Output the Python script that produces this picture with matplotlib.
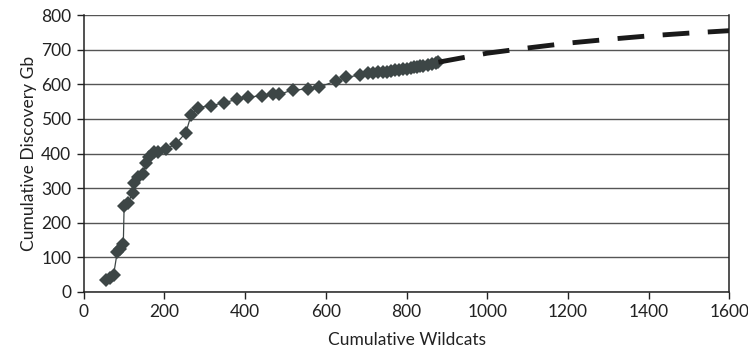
import matplotlib
matplotlib.use("Agg")
import matplotlib.pyplot as plt

# historical discoveries
wildcats = [55, 64, 74, 83, 91, 98, 100, 110, 121, 124, 135, 146, 154, 162, 174, 184,
            203, 228, 253, 266, 282, 315, 348, 381, 408, 441, 468, 485, 518, 555, 584,
            625, 650, 685, 705, 718, 730, 742, 752, 762, 772, 782, 792, 800, 810, 818,
            826, 834, 842, 852, 862, 872, 879]
discovery = [35, 40, 50, 116, 123, 139, 248, 258, 287, 316, 333, 341, 372, 391, 405, 405,
             412, 428, 460, 511, 533, 538, 547, 557, 564, 566, 571, 571, 584, 586, 592,
             610, 620, 627, 632, 633, 635, 636, 637, 638, 640, 641, 643, 645, 648, 650,
             651, 652, 653, 656, 659, 662, 664]

# extrapolated trend (dashed)
trend_x = [879, 1000, 1100, 1200, 1300, 1400, 1500, 1600]
trend_y = [664, 690, 705, 719, 730, 740, 748, 755]

plt.rcParams['font.family'] = ['Lato', 'DejaVu Sans']

fig = plt.figure(figsize=(7.48, 3.6), dpi=100)
ax = fig.add_axes([0.112, 0.189, 0.863, 0.769])

ax.plot(wildcats, discovery, color='#3d4646', linewidth=0.9, marker='D',
        markersize=7.3, markeredgewidth=0, zorder=3)
ax.plot(trend_x, trend_y, color='#1a1a1a', linewidth=3.5, dashes=(5.5, 3.8),
        dash_capstyle='butt', zorder=3)

ax.set_xlim(0, 1600)
ax.set_ylim(0, 800)
ax.set_xticks(range(0, 1601, 200))
ax.set_yticks(range(0, 801, 100))
ax.yaxis.grid(True, color='#555555', linewidth=1)
ax.set_axisbelow(True)

for s in ['left', 'right', 'bottom']:
    ax.spines[s].set_color('#222222')
    ax.spines[s].set_linewidth(1.1)
ax.spines['top'].set_visible(False)

ax.tick_params(axis='both', direction='out', length=5, width=1, color='#222222',
               labelsize=12.5, labelcolor='#222222', pad=4)
ax.set_xlabel('Cumulative Wildcats', fontsize=12.5, color='#222222', labelpad=8)
ax.set_ylabel('Cumulative Discovery Gb', fontsize=12.5, color='#222222', labelpad=3)

fig.savefig('out.png', dpi=100)
